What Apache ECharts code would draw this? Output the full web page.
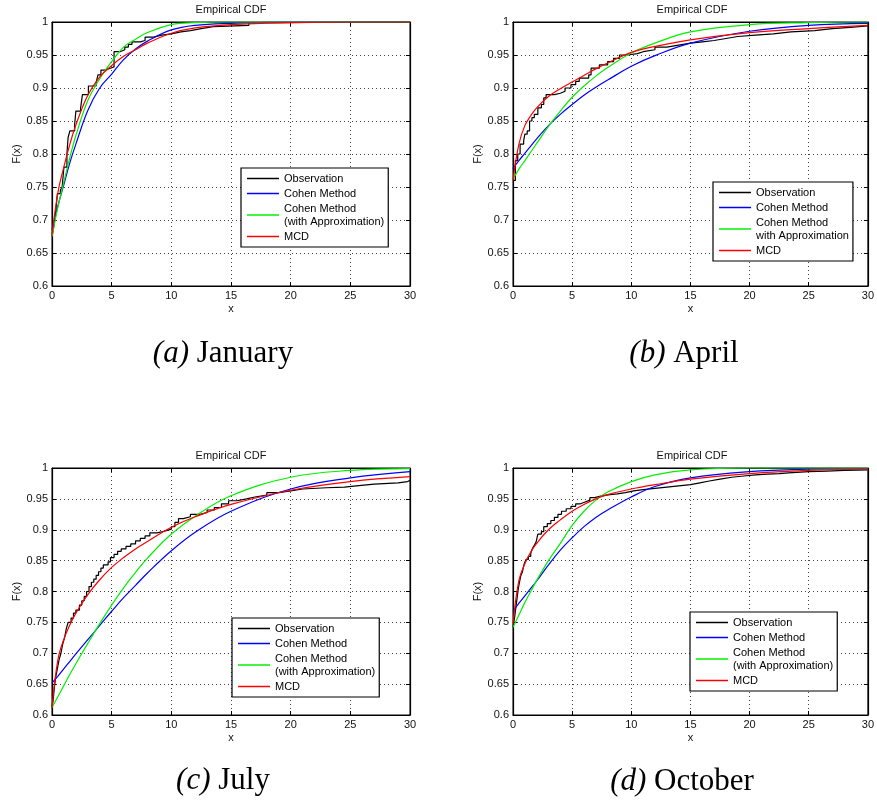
<!DOCTYPE html>
<html>
<head>
<meta charset="utf-8">
<script src="https://cdn.jsdelivr.net/npm/echarts@6/dist/echarts.min.js"></script>
<style>html,body{margin:0;padding:0;background:#fff;}#c{width:877px;height:804px;}</style>
</head>
<body>
<div id="c"></div>
<script>
// ---------- DATA ----------
const panelCaptions = ['(a)|January', '(b)|April', '(c)|July', '(d)|October'];
const chartTitle = 'Empirical CDF';
const xTicks = [0, 5, 10, 15, 20, 25, 30];
const yTicks = [0.6, 0.65, 0.7, 0.75, 0.8, 0.85, 0.9, 0.95, 1];
const seriesNames = ['Observation', 'Cohen Method', 'Cohen Method (with Approximation)', 'MCD'];
const aprilGreenName = 'Cohen Method with Approximation';

// x positions at which the smooth fitted curves were read
const curveX = [0, 0.5, 1, 1.5, 2, 3, 4, 5, 6, 7, 8, 10, 12, 15, 20, 25, 30];

// January
const janCohen  = [0.685, 0.722, 0.754, 0.787, 0.815, 0.866, 0.9, 0.921, 0.943, 0.959, 0.971, 0.988, 0.995, 0.998, 1, 1, 1];
const janApprox = [0.675, 0.72, 0.758, 0.795, 0.828, 0.881, 0.914, 0.94, 0.962, 0.974, 0.984, 0.996, 0.999, 1, 1, 1, 1];
const janMCD    = [0.677, 0.742, 0.781, 0.815, 0.844, 0.889, 0.917, 0.934, 0.948, 0.958, 0.968, 0.983, 0.991, 0.996, 0.999, 1, 1];
const janObs = [[0,0.675],[0.15,0.69],[0.3,0.71],[0.45,0.74],[0.7,0.745],[0.85,0.75],[1.0,0.78],[1.25,0.8],[1.35,0.825],[1.5,0.835],[1.9,0.845],[2.0,0.865],[2.4,0.87],[2.55,0.89],[3.05,0.903],[3.7,0.908],[3.85,0.92],[4.1,0.927],[4.4,0.93],[4.9,0.932],[5.2,0.955],[5.7,0.958],[6.1,0.962],[6.4,0.966],[6.7,0.97],[7.4,0.972],[7.8,0.977],[8.5,0.98],[9.2,0.982],[10.0,0.985],[10.8,0.987],[11.6,0.99],[12.5,0.993],[13.5,0.995],[16.5,0.999],[18.3,1.0],[30,1.0]];

// April
const aprCohen  = [0.778, 0.79, 0.801, 0.812, 0.823, 0.843, 0.86, 0.875, 0.889, 0.901, 0.912, 0.933, 0.949, 0.968, 0.986, 0.995, 0.998];
const aprApprox = [0.762, 0.777, 0.79, 0.803, 0.816, 0.842, 0.865, 0.886, 0.903, 0.918, 0.931, 0.953, 0.968, 0.985, 0.996, 0.999, 1];
const aprMCD    = [0.76, 0.815, 0.843, 0.858, 0.87, 0.887, 0.899, 0.909, 0.919, 0.929, 0.938, 0.954, 0.963, 0.973, 0.984, 0.99, 0.995];
const aprObs = [[0,0.76],[0.2,0.79],[0.4,0.8],[0.6,0.815],[0.9,0.82],[1.0,0.83],[1.2,0.835],[1.4,0.85],[1.6,0.855],[1.8,0.86],[2.1,0.87],[2.4,0.875],[2.6,0.885],[2.8,0.89],[3.5,0.892],[4.0,0.895],[4.4,0.9],[4.9,0.905],[5.3,0.91],[5.6,0.915],[6.4,0.92],[6.6,0.93],[7.3,0.935],[8.0,0.94],[8.5,0.945],[9.0,0.95],[9.7,0.952],[10.5,0.955],[11,0.958],[12,0.962],[13,0.965],[14,0.968],[15,0.97],[16,0.972],[17,0.975],[18,0.978],[19,0.98],[20.5,0.982],[22,0.985],[23.5,0.987],[25.5,0.99],[27,0.992],[28.5,0.994],[30,0.996]];

// July
const julCohen  = [0.652, 0.663, 0.675, 0.687, 0.699, 0.722, 0.745, 0.768, 0.79, 0.81, 0.83, 0.866, 0.896, 0.93, 0.966, 0.984, 0.994];
const julApprox = [0.612, 0.63, 0.648, 0.666, 0.683, 0.716, 0.748, 0.778, 0.806, 0.831, 0.854, 0.893, 0.922, 0.955, 0.985, 0.996, 0.999];
const julMCD    = [0.612, 0.69, 0.723, 0.746, 0.765, 0.795, 0.819, 0.839, 0.855, 0.869, 0.881, 0.904, 0.921, 0.941, 0.964, 0.978, 0.986];
const julObs = [[0,0.612],[0.1,0.625],[0.2,0.645],[0.3,0.66],[0.45,0.675],[0.6,0.69],[0.75,0.7],[0.9,0.715],[1.05,0.725],[1.2,0.74],[1.35,0.75],[1.6,0.757],[1.8,0.765],[2.0,0.77],[2.3,0.778],[2.5,0.785],[2.7,0.792],[2.9,0.8],[3.1,0.808],[3.3,0.815],[3.5,0.82],[3.7,0.826],[3.9,0.832],[4.1,0.838],[4.3,0.843],[4.7,0.848],[4.9,0.855],[5.2,0.86],[5.5,0.865],[5.8,0.869],[6.2,0.873],[6.6,0.877],[7.0,0.882],[7.4,0.886],[7.8,0.89],[8.2,0.895],[8.8,0.898],[9.5,0.901],[10.0,0.905],[10.3,0.912],[10.6,0.918],[11.0,0.921],[11.6,0.925],[12.4,0.928],[13.0,0.932],[13.6,0.936],[14.2,0.942],[14.8,0.947],[15.5,0.95],[16.3,0.953],[17,0.956],[18,0.96],[19,0.963],[20,0.966],[21,0.968],[23,0.969],[24.5,0.971],[25.5,0.974],[27,0.976],[29,0.978],[29.8,0.98],[30,0.98]];

// October
const octCohen  = [0.768, 0.781, 0.793, 0.805, 0.817, 0.843, 0.867, 0.887, 0.905, 0.92, 0.932, 0.953, 0.97, 0.984, 0.994, 0.998, 0.999];
const octApprox = [0.742, 0.762, 0.782, 0.8, 0.818, 0.85, 0.878, 0.907, 0.93, 0.948, 0.961, 0.978, 0.989, 0.997, 1, 1, 1];
const octMCD    = [0.748, 0.818, 0.845, 0.864, 0.878, 0.9, 0.916, 0.93, 0.941, 0.95, 0.957, 0.966, 0.973, 0.982, 0.991, 0.996, 0.998];
const octObs = [[0,0.742],[0.15,0.76],[0.25,0.775],[0.35,0.79],[0.45,0.805],[0.55,0.815],[0.65,0.825],[0.8,0.832],[0.95,0.845],[1.1,0.852],[1.3,0.857],[1.5,0.862],[1.65,0.87],[1.8,0.875],[1.95,0.88],[2.1,0.893],[2.4,0.897],[2.6,0.905],[2.9,0.91],[3.2,0.915],[3.5,0.92],[3.8,0.925],[4.1,0.93],[4.5,0.934],[4.9,0.938],[5.3,0.942],[5.7,0.945],[6.1,0.948],[6.5,0.952],[6.9,0.955],[7.5,0.957],[8.2,0.958],[8.8,0.96],[9.5,0.963],[10.2,0.965],[11,0.967],[12,0.969],[13,0.971],[14,0.973],[15,0.976],[15.8,0.979],[16.6,0.982],[17.5,0.985],[18.5,0.987],[19.5,0.989],[20.5,0.99],[21.5,0.991],[22.5,0.992],[23.3,0.994],[25,0.995],[26.5,0.996],[28,0.997],[30,0.998]];

const panels = [
  {obs: janObs, cohen: janCohen, approx: janApprox, mcd: janMCD},
  {obs: aprObs, cohen: aprCohen, approx: aprApprox, mcd: aprMCD},
  {obs: julObs, cohen: julCohen, approx: julApprox, mcd: julMCD},
  {obs: octObs, cohen: octCohen, approx: octApprox, mcd: octMCD}
];

// ---------- LAYOUT ----------
const SANS = '"Liberation Sans", Arial, Helvetica, sans-serif';
const SERIF = '"Liberation Serif", "DejaVu Serif", serif';
const gridBoxes = [
  {left: 52, top: 22, width: 358, height: 264},
  {left: 513, top: 22, width: 358, height: 264},
  {left: 52, top: 468, width: 358, height: 247},
  {left: 513, top: 468, width: 358, height: 247}
];
const legendPos = [
  {left: 241, top: 168},
  {left: 713, top: 182},
  {left: 232, top: 618},
  {left: 690, top: 612}
];
const captionPos = [[223, 354], [684, 354], [223, 781], [682, 782]];
const colors = ['#000000', '#0000ff', '#00f000', '#ff0000'];

const zip = (xs, ys) => xs.map((x, i) => [x, ys[i]]);

const grid = [], xAxis = [], yAxis = [], series = [], legend = [], graphic = [];
gridBoxes.forEach((g, i) => {
  grid.push(Object.assign({show: true, borderColor: '#000', borderWidth: 1, backgroundColor: '#fff'}, g));
  const tickStyle = {inside: true, length: 4, lineStyle: {color: '#000', width: 1}};
  xAxis.push({
    gridIndex: i, type: 'value', min: xTicks[0], max: xTicks[xTicks.length - 1], interval: 5,
    axisLine: {show: true, onZero: false, lineStyle: {color: '#000', width: 1.2}},
    axisTick: tickStyle,
    axisLabel: {fontSize: 11, color: '#111', fontFamily: SANS, margin: 4},
    splitLine: {show: true, lineStyle: {type: [1, 3], color: '#444', width: 1}},
    name: 'x', nameLocation: 'middle', nameGap: 17,
    nameTextStyle: {fontSize: 11, color: '#111', fontFamily: SANS}
  });
  xAxis.push({
    gridIndex: i, type: 'value', position: 'top', min: 0, max: 30, interval: 5,
    axisLine: {show: true, onZero: false, lineStyle: {color: '#000', width: 1.2}},
    axisTick: tickStyle, axisLabel: {show: false}, splitLine: {show: false}
  });
  yAxis.push({
    gridIndex: i, type: 'value', min: yTicks[0], max: yTicks[yTicks.length - 1], interval: 0.05,
    axisLine: {show: true, onZero: false, lineStyle: {color: '#000', width: 1.2}},
    axisTick: tickStyle,
    axisLabel: {fontSize: 11, color: '#111', fontFamily: SANS, margin: 4,
      formatter: v => String(Math.round(v * 100) / 100)},
    splitLine: {show: true, lineStyle: {type: [1, 3], color: '#444', width: 1}},
    name: 'F(x)', nameLocation: 'middle', nameGap: 30, nameRotate: 90,
    nameTextStyle: {fontSize: 11, color: '#111', fontFamily: SANS}
  });
  yAxis.push({
    gridIndex: i, type: 'value', position: 'right', min: 0.6, max: 1, interval: 0.05,
    axisLine: {show: true, onZero: false, lineStyle: {color: '#000', width: 1.2}},
    axisTick: tickStyle, axisLabel: {show: false}, splitLine: {show: false}
  });

  const p = panels[i];
  const greenName = i === 1 ? aprilGreenName : seriesNames[2];
  const names = [seriesNames[0], seriesNames[1], greenName, seriesNames[3]];
  const datas = [p.obs, zip(curveX, p.cohen), zip(curveX, p.approx), zip(curveX, p.mcd)];
  datas.forEach((d, k) => {
    const s = {
      type: 'line', name: names[k], xAxisIndex: 2 * i, yAxisIndex: 2 * i, data: d,
      showSymbol: false, symbol: 'none', animation: false,
      lineStyle: {color: colors[k], width: 1.2}, itemStyle: {color: colors[k]}, z: 2 + k
    };
    if (k === 0) s.step = 'end'; else s.smooth = 0.4;
    series.push(s);
  });

  legend.push(Object.assign({
    orient: 'vertical', data: names.map(n => ({name: n, icon: 'rect'})), selectedMode: false,
    backgroundColor: '#fff', borderColor: '#000', borderWidth: 1.2,
    padding: [4, 4, 4, 6], itemGap: 2, itemWidth: 32, itemHeight: 1.5,
    textStyle: {fontSize: 11, color: '#000', fontFamily: SANS, lineHeight: 13},
    formatter: n => n.replace('Method ', 'Method\n')
  }, legendPos[i]));

  graphic.push({
    type: 'text', x: g.left + g.width / 2, y: g.top - 12,
    style: {text: chartTitle, fontSize: 11, fontFamily: SANS, fill: '#111', align: 'center', verticalAlign: 'middle'}
  });
  const [lab, month] = panelCaptions[i].split('|');
  graphic.push({
    type: 'text', x: captionPos[i][0], y: captionPos[i][1],
    style: {
      text: '{it|' + lab + '} {rm|' + month + '}', align: 'center', verticalAlign: 'middle',
      rich: {
        it: {fontStyle: 'italic', fontFamily: SERIF, fontSize: 31, fill: '#000'},
        rm: {fontFamily: SERIF, fontSize: 31, fill: '#000'}
      },
      fontFamily: SERIF, fontSize: 31, fill: '#000'
    }
  });
});

const chart = echarts.init(document.getElementById('c'), null, {renderer: 'canvas'});
chart.setOption({animation: false, backgroundColor: '#fff', grid, xAxis, yAxis, series, legend, graphic});
</script>
</body>
</html>
